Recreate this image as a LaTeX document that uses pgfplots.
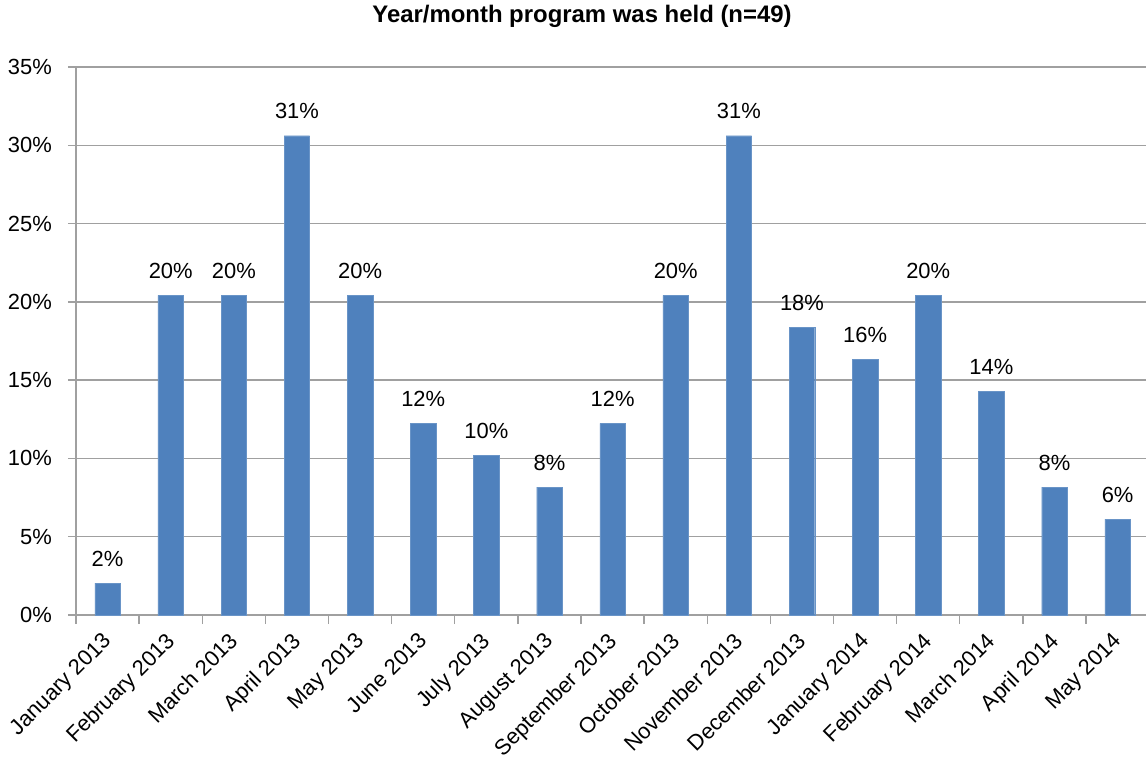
\documentclass[border=0pt]{standalone}
\usepackage{pgfplots}
\pgfplotsset{compat=1.18}
\usepackage{fontspec}
\setmainfont{Liberation Sans}
\definecolor{barblue}{HTML}{4F81BD}
\definecolor{gridgray}{HTML}{A0A0A0}
\begin{document}
\begin{tikzpicture}
\begin{axis}[
  name=ax,
  scale only axis,
  width=1070bp, height=548bp,
  xmin=-0.5, xmax=16.45,
  ymin=0, ymax=35,
  ytick={0,5,...,35},
  yticklabel={\pgfmathprintnumber{\tick}\%},
  /pgf/number format/assume math mode=true,
  xtick={0,...,16},
  xticklabels={January 2013,February 2013,March 2013,April 2013,May 2013,June 2013,July 2013,August 2013,September 2013,October 2013,November 2013,December 2013,January 2014,February 2014,March 2014,April 2014,May 2014},
  minor xtick={-0.5,0.5,...,16.5},
  major x tick style={draw=none},
  tick align=outside,
  xtick pos=bottom, ytick pos=left,
  tick style={gridgray, line width=1.3bp},
  minor tick length=9bp,
  major tick length=8bp,
  ymajorgrids,
  grid style={gridgray, line width=1.3bp},
  axis line style={gridgray, line width=1.3bp},
  axis x line*=bottom,
  axis y line*=left,
  ticklabel style={font=\fontsize{22}{26}\selectfont},
  x tick label style={font=\fontsize{22}{26}\selectfont, xshift=-6bp, yshift=-8bp, rotate=45, anchor=north east, inner sep=0pt},
  y tick label style={inner sep=0pt, xshift=-16bp},
  title={\bfseries Year/month program was held (n=49)},
  title style={font=\fontsize{24}{28}\selectfont, at={(0.5,1)}, anchor=center, yshift=45bp, xshift=-29bp},
  ybar, bar width=25.5bp,
  nodes near coords={\pgfmathprintnumber[fixed,precision=0]{\pgfplotspointmeta}\%},
  nodes near coords style={font=\fontsize{22}{26}\selectfont, black, inner sep=0pt, anchor=base, yshift=17bp},
  point meta=y,
]
\addplot[fill=barblue, draw=barblue!85!white] coordinates {
(0,2.04) (1,20.41) (2,20.41) (3,30.61) (4,20.41) (5,12.24) (6,10.20) (7,8.16) (8,12.24)
(9,20.41) (10,30.61) (11,18.37) (12,16.33) (13,20.41) (14,14.29) (15,8.16) (16,6.12)
};
\end{axis}
\pgfresetboundingbox
\useasboundingbox ([xshift=-76bp, yshift=-146bp]ax.south west) rectangle ([yshift=67bp]ax.north east);
\end{tikzpicture}
\end{document}
